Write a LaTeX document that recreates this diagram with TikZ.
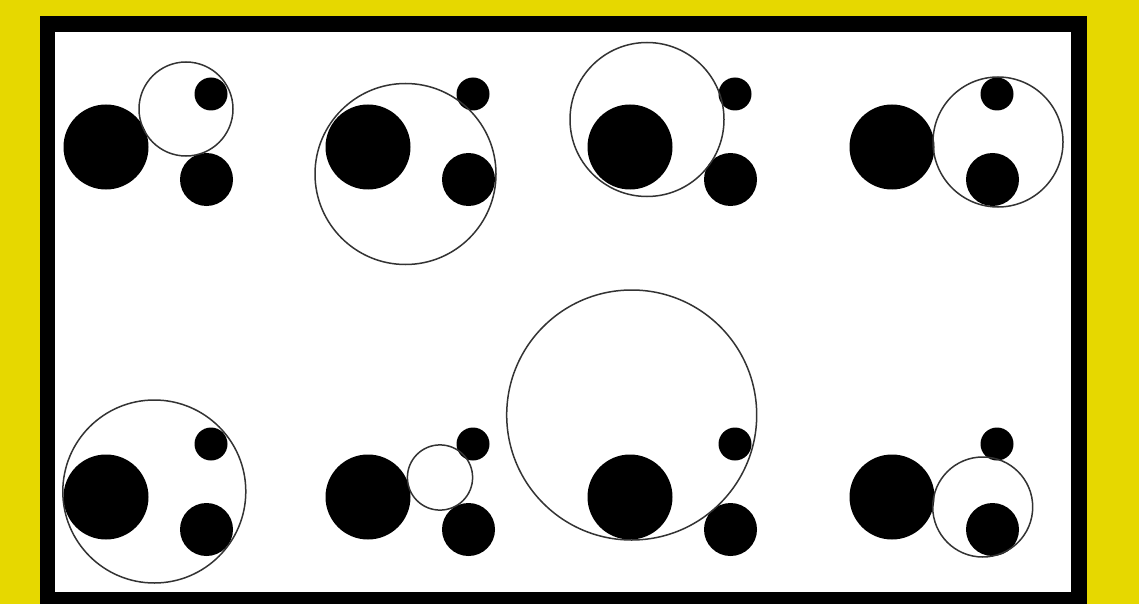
\documentclass[tikz,border=0pt]{standalone}
\definecolor{bgyellow}{RGB}{230,216,0}
\begin{document}
\begin{tikzpicture}[x=1pt,y=-1pt,
  disc/.style={fill=black},
  sol/.style={draw=black!80,line width=1.5pt}]
\useasboundingbox (0,0) rectangle (1139,604);
\fill[bgyellow] (0,0) rectangle (1139,604);
\fill[black] (40,16) rectangle (1087,604);
\fill[white] (55,32) rectangle (1071,592);
% base discs in each panel
\foreach \dx/\dy in {0/0,262/0,524/0,786/0,0/350,262/350,524/350,786/350}{
  \begin{scope}[shift={(\dx,\dy)}]
    \fill[disc] (106,147) circle (42.5);
    \fill[disc] (211,94) circle (16.5);
    \fill[disc] (206.5,179.5) circle (26.5);
  \end{scope}
}
% solution circles
\draw[sol] (186,109) circle (47);
\draw[sol] (405.5,174) circle (90.5);
\draw[sol] (647,119.5) circle (77);
\draw[sol] (998,142) circle (65);
\draw[sol] (154.3,491.5) circle (91.5);
\draw[sol] (440,477.5) circle (32.6);
\draw[sol] (631.7,415) circle (125);
\draw[sol] (982.7,507) circle (50);
\end{tikzpicture}
\end{document}
